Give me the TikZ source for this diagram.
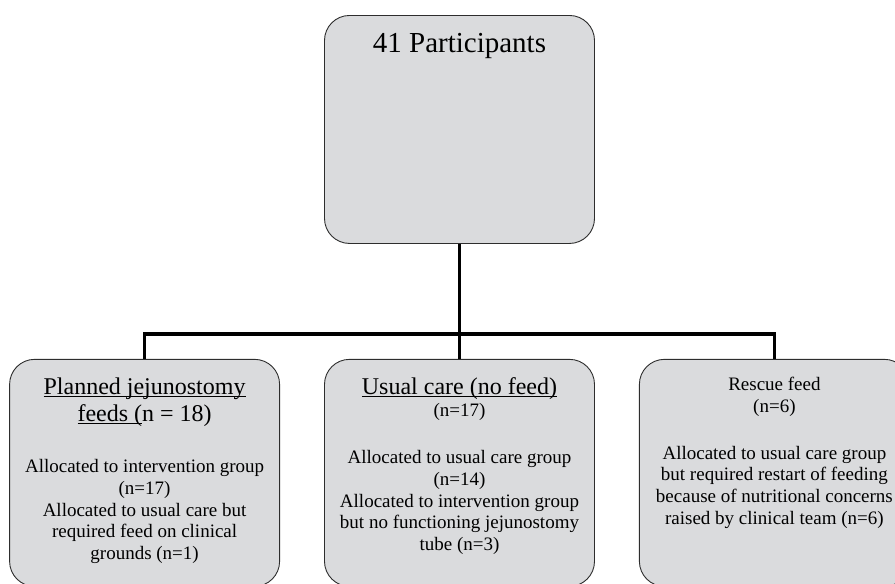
\documentclass[tikz,border=0pt]{standalone}
\usepackage{fontspec}
\setmainfont{Liberation Serif}
\usepackage{xcolor}
\usetikzlibrary{positioning}
\definecolor{boxgray}{RGB}{218,219,221}
\definecolor{edgegray}{RGB}{45,45,45}
\newcommand{\titletxt}{\fontsize{29}{33}\selectfont}
\newcommand{\bigtxt}{\fontsize{24}{27}\selectfont}
\newcommand{\smalltxt}{\fontsize{19}{21.7}\selectfont}
\newsavebox{\ulbox}
\newcommand{\undr}[1]{\leavevmode\sbox{\ulbox}{#1}\rlap{\rule[-3pt]{\wd\ulbox}{1.1pt}}\usebox{\ulbox}}

\begin{document}
\begin{tikzpicture}[x=1pt,y=1pt,
    box/.style={draw=edgegray,line width=0.9pt,fill=boxgray,rounded corners=25pt,
      inner xsep=4pt,inner ysep=18pt,minimum width=270pt},
    conn/.style={line width=3.5pt,black}]
  \useasboundingbox (0,0) rectangle (895,-584);
  \clip (0,0) rectangle (895,-584);
  % participants
  \node (top) [box,anchor=north] at (459.5,-15)
    {\parbox[t][192pt][t]{262pt}{\centering\titletxt 41 Participants}};
  % three groups
  \node (mid) [box,below=115pt of top]
    {\parbox[t][191pt][t]{262pt}{\centering
      {\bigtxt\undr{Usual care (no feed)}\par}\vspace{1pt}
      {\smalltxt (n=17)\\[25pt]
       Allocated to usual care group\\ (n=14)\\
       Allocated to intervention group\\ but no functioning jejunostomy\\
       tube (n=3)\par}}};
  \node (lft) [box,left=44pt of mid]
    {\parbox[t][191pt][t]{262pt}{\centering
      {\bigtxt\undr{Planned jejunostomy}\\ \undr{feeds (}n = 18)\par}\vspace{30pt}
      {\smalltxt Allocated to intervention group\\ (n=17)\\
       Allocated to usual care but\\ required feed on clinical\\
       grounds (n=1)\par}}};
  \node (rgt) [box,right=44pt of mid]
    {\parbox[t][191pt][t]{262pt}{\centering
      {\smalltxt Rescue feed\\ (n=6)\\[25pt]
       Allocated to usual care group\\ but required restart of feeding\\
       because of nutritional concerns\\ raised by clinical team (n=6)\par}}};
  % connectors
  \coordinate (bar) at (459.5,-334);
  \draw[conn] (top.south) -- (mid.north);
  \draw[conn] (lft.north) |- (bar) -| (rgt.north);
\end{tikzpicture}
\end{document}
